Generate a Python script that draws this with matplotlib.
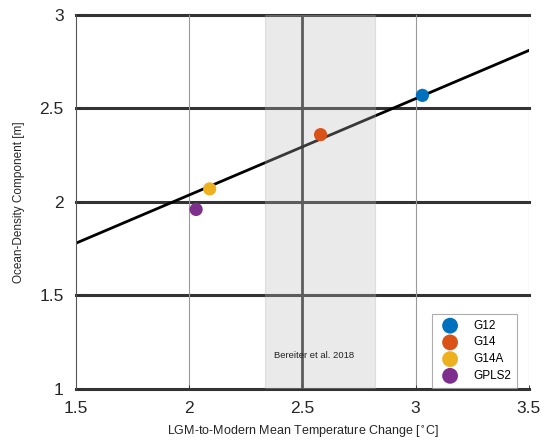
import matplotlib
matplotlib.use("Agg")
import matplotlib.pyplot as plt
import numpy as np

plt.rcParams['font.family'] = ['Liberation Sans', 'DejaVu Sans']

names = ["G12", "G14", "G14A", "GPLS2"]
temp_change = [3.03, 2.58, 2.09, 2.03]
ocean_density = [2.57, 2.36, 2.07, 1.96]
colors = ["#0072BD", "#D95319", "#EDB120", "#7E2F8E"]

fit_x = [1.5, 3.5]
fit_y = [1.78, 2.81]

shade_range = [2.335, 2.82]
shade_label = "Bereiter et al. 2018"

xticks = [1.5, 2, 2.5, 3, 3.5]
yticks = [1, 1.5, 2, 2.5, 3]

fig = plt.figure(figsize=(5.44, 4.4), dpi=100)
ax = fig.add_axes([0.14, 0.116, 0.832, 0.85])

ax.set_xlim(1.5, 3.5)
ax.set_ylim(1, 3)

# grid lines
for y in yticks:
    ax.axhline(y, color="#333333", lw=2.2, zorder=1, clip_on=False)
for x in [2, 3, 3.5]:
    ax.axvline(x, color="#999999", lw=0.8, zorder=1)
ax.axvline(2.5, color="#333333", lw=2.0, zorder=1)

# fit line
ax.plot(fit_x, fit_y, color="black", lw=2.0, zorder=2)

# shaded range
ax.axvspan(shade_range[0], shade_range[1], facecolor="#bbbbbb", alpha=0.3,
           edgecolor="#aaaaaa", lw=0.8, zorder=3)
ax.text(shade_range[0] + 0.04, 1.18, shade_label, fontsize=6.8,
        color="#222222", zorder=4, va="center")

# points
for n, x, y, c in zip(names, temp_change, ocean_density, colors):
    ax.scatter([x], [y], s=90, color=c, zorder=5, label=n, edgecolors="none")

ax.set_xticks(xticks)
ax.set_xticklabels([f"{t:g}" for t in xticks])
ax.set_yticks(yticks)
ax.set_yticklabels([f"{t:g}" for t in yticks])
ax.tick_params(axis="both", labelsize=12.5, colors="#262626", direction="in",
               length=3, width=0.6)
ax.tick_params(axis="y", pad=9)
ax.tick_params(axis="x", pad=9)

for s in ["top", "right", "bottom"]:
    ax.spines[s].set_visible(False)
ax.spines["left"].set_color("#555555")
ax.spines["left"].set_linewidth(0.8)

ax.set_xlabel("LGM-to-Modern Mean Temperature Change [$^{\\circ}$C]",
              fontsize=9, color="#262626", labelpad=5)
ax.set_ylabel("Ocean-Density Component [m]", fontsize=8.5, color="#262626",
              labelpad=10)

leg = ax.legend(loc="lower right", fontsize=8.5, frameon=True, fancybox=False,
                edgecolor="#999999", borderpad=0.5, handletextpad=1.0,
                labelspacing=0.4, markerscale=1.2, borderaxespad=0,
                bbox_to_anchor=(0.975, 0.003))
leg.get_frame().set_linewidth(0.8)
leg.set_zorder(10)

fig.savefig("out.png", dpi=100)
